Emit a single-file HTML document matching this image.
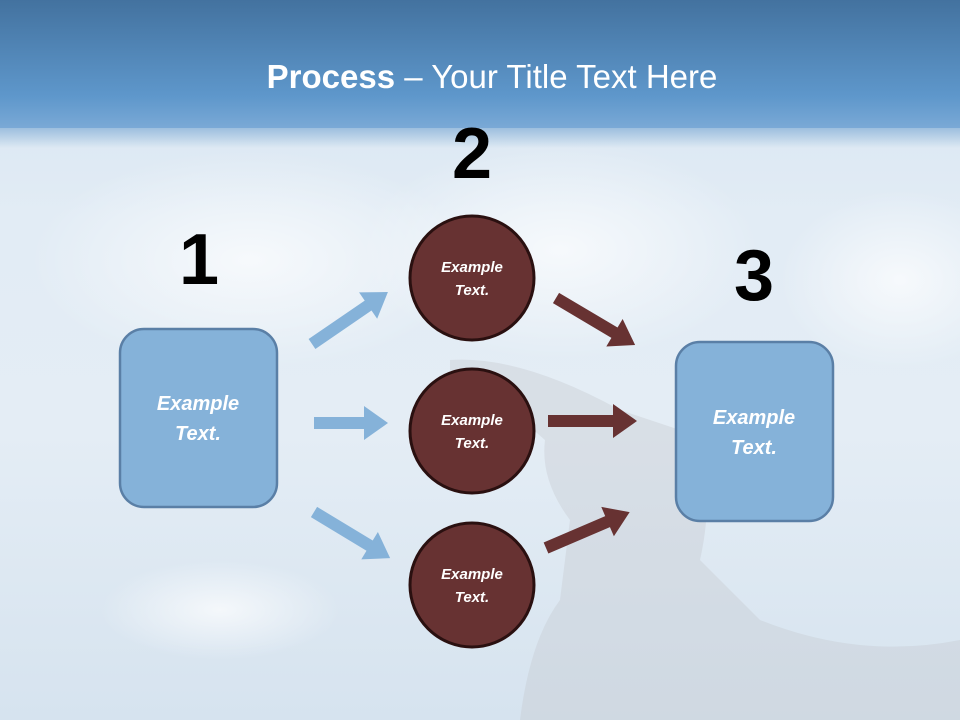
<!DOCTYPE html>
<html><head><meta charset="utf-8"><style>
html,body{margin:0;padding:0}
body{width:960px;height:720px;overflow:hidden;position:relative;font-family:"Liberation Sans",sans-serif;
background:linear-gradient(180deg,#d5e3f0 0%,#e2ecf5 30%,#e4edf5 60%,#d6e3ef 100%);}
</style></head><body>
<svg width="960" height="720" viewBox="0 0 960 720" style="position:absolute;left:0;top:0">
<defs>
<linearGradient id="top" x1="0" y1="0" x2="0" y2="1">
<stop offset="0" stop-color="#43729f"/><stop offset="0.75" stop-color="#5e97cb"/><stop offset="1" stop-color="#7aa9d6"/>
</linearGradient>
<linearGradient id="fade" x1="0" y1="0" x2="0" y2="1">
<stop offset="0" stop-color="#9dbfde"/><stop offset="1" stop-color="#9dbfde" stop-opacity="0"/>
</linearGradient>
<radialGradient id="cl" cx="0.5" cy="0.5" r="0.5"><stop offset="0" stop-color="#fff" stop-opacity="0.7"/><stop offset="1" stop-color="#fff" stop-opacity="0"/></radialGradient>
</defs>
<ellipse cx="250" cy="260" rx="220" ry="110" fill="url(#cl)"/>
<ellipse cx="560" cy="250" rx="200" ry="110" fill="url(#cl)"/>
<ellipse cx="900" cy="280" rx="120" ry="90" fill="url(#cl)"/>
<ellipse cx="220" cy="610" rx="120" ry="50" fill="url(#cl)"/>
<path d="M450 360 Q520 355 620 410 L680 430 Q720 470 700 560 L760 620 Q860 660 960 640 L960 720 L520 720 Q530 640 560 600 L570 520 Q540 480 545 440 Q500 400 450 370 Z" fill="#c3c6cc" opacity="0.35"/>
<rect x="0" y="0" width="960" height="128" fill="url(#top)"/>
<rect x="0" y="128" width="960" height="20" fill="url(#fade)"/>
<text x="492" y="88" text-anchor="middle" fill="#fff" font-family="Liberation Sans,sans-serif" font-size="33"><tspan font-weight="bold">Process</tspan> – Your Title Text Here</text>

<g fill="#85b2d9">
<polygon transform="translate(312,344) rotate(-34.4)" points="0,-6 68,-6 68,-16 92,0 68,16 68,6 0,6"/>
<polygon transform="translate(314,423)" points="0,-6 50,-6 50,-17 74,0 50,17 50,6 0,6"/>
<polygon transform="translate(314,512) rotate(31.2)" points="0,-6 65,-6 65,-16 89,0 65,16 65,6 0,6"/>
</g>
<g fill="#673232">
<polygon transform="translate(556,298) rotate(30.7)" points="0,-6 68,-6 68,-16 92,0 68,16 68,6 0,6"/>
<polygon transform="translate(548,421)" points="0,-6 65,-6 65,-17 89,0 65,17 65,6 0,6"/>
<polygon transform="translate(546,548) rotate(-23.2)" points="0,-6 67,-6 67,-16 91,0 67,16 67,6 0,6"/>
</g>

<rect x="120" y="329" width="157" height="178" rx="24" fill="#85b2d9" stroke="#5a7fa6" stroke-width="2.5"/>
<rect x="676" y="342" width="157" height="179" rx="24" fill="#85b2d9" stroke="#5a7fa6" stroke-width="2.5"/>
<g fill="#673232" stroke="#2a1010" stroke-width="3">
<circle cx="472" cy="278" r="62"/><circle cx="472" cy="431" r="62"/><circle cx="472" cy="585" r="62"/>
</g>
<g fill="#fff" font-family="Liberation Sans,sans-serif" font-weight="bold" font-style="italic" text-anchor="middle">
<text x="198" y="410" font-size="20">Example</text><text x="198" y="440" font-size="20">Text.</text>
<text x="754" y="424" font-size="20">Example</text><text x="754" y="454" font-size="20">Text.</text>
<text x="472" y="272" font-size="15">Example</text><text x="472" y="295" font-size="15">Text.</text>
<text x="472" y="425" font-size="15">Example</text><text x="472" y="448" font-size="15">Text.</text>
<text x="472" y="579" font-size="15">Example</text><text x="472" y="602" font-size="15">Text.</text>
</g>
<g fill="#000" font-family="Liberation Sans,sans-serif" font-weight="bold" font-size="72" text-anchor="middle">
<text x="199" y="284">1</text><text x="472" y="178">2</text><text x="754" y="300">3</text>
</g>
</svg>
</body></html>
